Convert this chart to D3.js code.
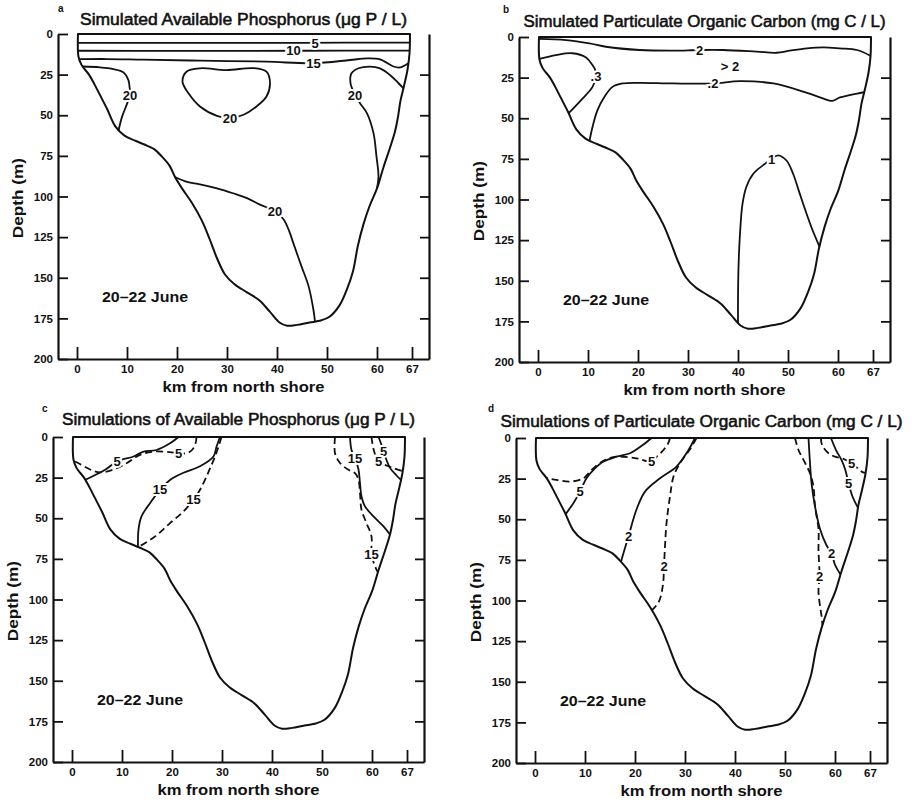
<!DOCTYPE html>
<html>
<head>
<meta charset="utf-8">
<script src="https://cdn.jsdelivr.net/npm/d3@7"></script>
<style>
  body { margin: 0; background: #fff; }
  text { font-family: "Liberation Sans", Arial, sans-serif; fill: #111; }
</style>
</head>
<body>
<svg id="fig" width="912" height="802"></svg>
<script>
// ---- axis ticks ----
const kmTicks = [0, 10, 20, 30, 40, 50, 60, 67];
const depthTicks = [0, 25, 50, 75, 100, 125, 150, 175, 200];
const dateLabel = "20–22 June";

// ---- lake cross-section: [km from north shore, depth m] ----
const shoreline = [
  [0.2, 0], [0.3, 14], [0.9, 19], [2.4, 25], [3.5, 31], [4.5, 37], [6, 46], [7.7, 57],
  [9.5, 62.5], [11.5, 65.5], [13.5, 68], [15.5, 71], [17, 75.5], [18.5, 81], [19.6, 88],
  [21, 95], [23, 104], [25, 115], [26.5, 126], [28, 138], [29.6, 148], [31.5, 154],
  [34, 159], [36.5, 164], [38.6, 171], [40.5, 177.5], [42, 179.5], [44, 179], [46.5, 177.5],
  [48.5, 176.5], [50.5, 174], [52.5, 167], [54, 157], [55.2, 146], [56.2, 130], [57.3, 117],
  [58.5, 106], [60, 95], [61.3, 82], [62.6, 70], [63.6, 60], [64.2, 51], [64.7, 41],
  [65.4, 32], [66.1, 22], [66.5, 12], [66.6, 0]
];

// ---- (a) simulated available phosphorus, ug P/L ----
const aP5 = [[0.22, 5.5], [20, 5.5], [45, 5.4], [66.6, 5.3]];
const aP10 = [[0.25, 10.3], [20, 10.4], [45, 10.3], [66.55, 10.2]];
const aP15 = [[0.45, 15.5], [6, 15.4], [13.2, 15.8], [24.6, 16.4], [37.9, 17], [47.3, 18],
  [54.6, 16], [58, 15], [60.6, 15.6], [63.3, 20], [64.6, 20.6], [66.25, 18]];
const aP20Left = [[1.1, 20], [4.6, 20.5], [7.3, 21.6], [9.3, 23.6], [10.3, 28.5], [10.5, 32.4],
  [10.6, 37.5], [10, 43], [9, 51], [8.3, 59.5]];
const aP20Centre = [[21.9, 23.2], [24.6, 21.1], [29.9, 22.2], [35.3, 21], [37.9, 23.2],
  [38.6, 30.3], [37.9, 38.5], [35.9, 44.6], [33.3, 49.7], [30.6, 51.8], [28, 50.4],
  [24.6, 44.6], [22.3, 36.5], [21.1, 29.3]];
const aP20Right = [[65.3, 33.4], [64.3, 30.3], [62.6, 25.2], [60.6, 21.1], [58.6, 20.1],
  [56.3, 21.1], [54.9, 24.2], [54.7, 30.3], [55.6, 37.5], [56.6, 42.6], [58, 48.8],
  [59.3, 61], [59.9, 75.5], [60.3, 87.7], [60, 95]];
const aP20Deep = [[19.6, 88], [22, 91], [24.6, 92.5], [28, 95], [31.2, 98], [34, 101],
  [36.6, 105], [39.6, 109], [41.3, 114], [42.4, 121], [43.3, 129], [44.9, 143],
  [46.3, 155], [47.3, 170], [47.6, 177]];

// ---- (b) simulated particulate organic carbon, mg C/L ----
const bC2Upper = [[0.22, 1.2], [5.6, 1.9], [10.3, 3.9], [13.6, 6], [20.3, 8], [27, 8.4],
  [32.3, 8], [37, 8], [43.7, 9], [47.7, 9.7], [50.4, 8.4], [53.8, 7], [57.1, 6.4],
  [60.4, 7], [63.8, 8], [66.45, 11.5]];
const bC3 = [[0.3, 13.5], [3.6, 11.1], [6.9, 10], [9.6, 12.6], [10.9, 17.3], [11.6, 21.4],
  [11.6, 24.5], [10.9, 30.7], [8.9, 37.9], [6.1, 47]];
const bC2Middle = [[10.3, 64], [10.9, 55.4], [11.9, 45], [13.3, 36.8], [14.9, 30.7],
  [16.9, 28.6], [20.3, 28.2], [27, 28.6], [35, 28.6], [40.4, 27.2], [47.1, 28.6],
  [53.8, 34.4], [57.1, 37.9], [58.8, 39.3], [60.4, 37.2], [63.8, 34.8], [65.2, 34]];
const bC1 = [[40, 176], [40, 162.3], [40.1, 141.8], [40.4, 121], [40.9, 102.7], [41.7, 92],
  [43.1, 84], [45.4, 78], [46.7, 75], [48, 72.8], [49.7, 76], [51, 84], [52.2, 95],
  [53.4, 106], [54.8, 118], [56.3, 129]];

// ---- (c) simulations of available phosphorus (solid and dashed runs) ----
const cP5SolidL = [[21.3, 0], [19.6, 3.9], [16.9, 8], [14.3, 9], [12.3, 12], [9, 15],
  [6.7, 20], [2.7, 26.3]];
const cP5DashL = [[24.9, 0], [24.7, 4], [24, 8], [22.9, 10], [21.3, 10], [19.5, 9.3],
  [16.3, 9], [13.6, 11], [11, 16], [8.3, 20], [5.6, 21.8], [3.6, 20], [1.5, 16.5], [0.4, 14.8]];
const cP15SolidL = [[29.6, 0], [28.9, 6], [28.3, 12], [25.6, 18], [22.3, 22], [19.6, 26.4],
  [17.6, 32.5], [15.6, 40.7], [13.9, 48.9], [13.3, 57], [13.2, 67.6]];
const cP15DashL = [[29.9, 0], [29.3, 6], [28.6, 12], [27.8, 18], [26.9, 24.3], [25.6, 32.5],
  [24.3, 38.6], [22.3, 45.8], [19.6, 53], [16.7, 61], [13.3, 67.7]];
const cP15DashR = [[52.6, 0], [52.6, 10], [53.6, 16], [55.3, 20.2], [56.6, 22.3], [57.3, 26.4],
  [57.6, 34.6], [57.9, 44.8], [58.9, 53], [59.9, 61.2], [59.9, 72.4], [60.8, 81], [61.2, 83.3]];
const cP15SolidR = [[55.6, 0], [55.9, 8], [56.6, 13], [57.3, 20], [57.6, 28.4], [57.9, 36.6],
  [58.6, 42.7], [60.3, 48.9], [62.3, 55], [63.6, 60]];
const cP5DashR = [[59.9, 0], [60.3, 7.4], [61.3, 15.2], [63, 17.7], [64.3, 19.2], [66.15, 21]];
const cP5SolidR = [[61.3, 0], [61.8, 4], [62.3, 9], [63.6, 19], [65, 24], [65.8, 26.3]];

// ---- (d) simulations of particulate organic carbon (solid and dashed runs) ----
const dC5SolidL = [[23.3, 0], [21.7, 4], [19, 9.4], [16.3, 11.5], [13.7, 14.5], [11.7, 19.6],
  [10.3, 24.8], [9, 33], [7.7, 40], [6.1, 47]];
const dC5DashL = [[27, 0], [26.6, 3.5], [25.7, 7.4], [24.5, 11], [23.3, 14.5], [20.3, 12.5],
  [16.3, 11.5], [13.7, 14], [11.3, 19.6], [9.7, 24.8], [7, 26.8], [4.3, 25.8], [2.3, 24.6]];
const dC2SolidL = [[32, 0], [30.7, 7.4], [28.3, 17.6], [25, 24.8], [22, 33], [20.3, 44],
  [18.7, 60.5], [17.7, 70.8], [17.2, 76.2]];
const dC2DashL = [[32.3, 0], [31, 7], [29, 15.5], [27.7, 23.7], [27, 36], [26.3, 52.4],
  [26, 66.7], [25.8, 79], [25.6, 90], [24.8, 100.6], [23.4, 106]];
const dC2DashR = [[52, 0], [52.7, 7.4], [53.7, 13.5], [55, 21.7], [55.7, 30], [56, 42],
  [56.7, 56], [56.7, 68.7], [56.9, 85], [56.7, 95], [57.3, 109.5], [57.5, 115]];
const dC2SolidR = [[54.7, 0], [55, 15.5], [55.3, 27.6], [56, 42], [57, 56], [58.3, 66],
  [59.3, 71], [60, 78], [61.1, 84]];
const dC5DashR = [[57.2, 0], [57.4, 4.3], [58.7, 9.4], [60, 11.5], [61.8, 13], [63.3, 15.5],
  [64.5, 18.5], [65.5, 21], [66.1, 21.5]];
const dC5SolidR = [[59.2, 0], [60.2, 7.4], [61.3, 13.5], [62.1, 20], [62.7, 27.8],
  [63.5, 36], [64.6, 43]];

// ---- figure layout ----
const W = 371, H = 325;
const kmDomain = [-3.8, 70.4];

const panels = [
  {
    left: 58, top: 34, letter: "a", letterDx: 0, letterDy: -22,
    title: "Simulated Available Phosphorus (μg P / L)", titleLen: 327, titleDy: -9,
    lines: [
      { pts: aP5 }, { pts: aP10 }, { pts: aP15 }, { pts: aP20Left },
      { pts: aP20Centre, closed: true }, { pts: aP20Right }, { pts: aP20Deep }
    ],
    labels: [
      { t: "5", at: [47.6, 5.5] }, { t: "10", at: [43.3, 10.3] }, { t: "15", at: [47.3, 18] },
      { t: "20", at: [10.6, 37.5] }, { t: "20", at: [30.6, 51.8] },
      { t: "20", at: [55.6, 37.5] }, { t: "20", at: [39.6, 109] }
    ]
  },
  {
    left: 519, top: 37, letter: "b", letterDx: -16, letterDy: -24,
    title: "Simulated Particulate Organic Carbon (mg C / L)", titleLen: 362, titleDy: -10,
    lines: [{ pts: bC2Upper }, { pts: bC3 }, { pts: bC2Middle }, { pts: bC1 }],
    labels: [
      { t: "2", at: [32.3, 8] }, { t: "> 2", at: [38.4, 18.3], bare: true },
      { t: ".3", at: [11.6, 24.5] }, { t: ".2", at: [35, 28.6] }, { t: "1", at: [46.7, 75] }
    ]
  },
  {
    left: 53, top: 437, letter: "c", letterDx: -11, letterDy: -25,
    title: "Simulations of Available Phosphorus  (μg P / L)", titleLen: 353, titleDy: -12,
    lines: [
      { pts: cP5SolidL }, { pts: cP5DashL, dash: true }, { pts: cP15SolidL },
      { pts: cP15DashL, dash: true }, { pts: cP15DashR, dash: true }, { pts: cP15SolidR },
      { pts: cP5DashR, dash: true }, { pts: cP5SolidR }
    ],
    labels: [
      { t: "5", at: [9, 15] }, { t: "5", at: [21.3, 10] }, { t: "15", at: [17.6, 32.5] },
      { t: "15", at: [24.3, 38.6] }, { t: "15", at: [56.6, 13] }, { t: "15", at: [59.9, 72.4] },
      { t: "5", at: [62.3, 9] }, { t: "5", at: [61.3, 15.2] }
    ]
  },
  {
    left: 516, top: 438, letter: "d", letterDx: -28, letterDy: -26,
    title: "Simulations of Particulate Organic Carbon (mg C / L)", titleLen: 402, titleDy: -11,
    lines: [
      { pts: dC5SolidL }, { pts: dC5DashL, dash: true }, { pts: dC2SolidL },
      { pts: dC2DashL, dash: true }, { pts: dC2DashR, dash: true }, { pts: dC2SolidR },
      { pts: dC5DashR, dash: true }, { pts: dC5SolidR }
    ],
    labels: [
      { t: "5", at: [9, 33] }, { t: "5", at: [23.3, 14.5] }, { t: "2", at: [18.7, 60.5] },
      { t: "2", at: [25.8, 79] }, { t: "2", at: [56.9, 85] }, { t: "2", at: [59.3, 71] },
      { t: "5", at: [63.3, 15.5] }, { t: "5", at: [62.7, 27.8] }
    ]
  }
];

const svg = d3.select("#fig");
svg.append("rect").attr("width", 912).attr("height", 802).attr("fill", "#fff");

function drawPanel(p) {
  const g = svg.append("g").attr("transform", `translate(${p.left},${p.top})`);
  const x = d3.scaleLinear().domain(kmDomain).range([0, W]);
  const y = d3.scaleLinear().domain([0, 200]).range([0, H]);
  const line = d3.line().x(d => x(d[0])).y(d => y(d[1])).curve(d3.curveCatmullRom.alpha(0.5));
  const loop = d3.line().x(d => x(d[0])).y(d => y(d[1])).curve(d3.curveCatmullRomClosed.alpha(0.5));

  // lake outline: bottom profile closed by the water surface
  g.append("path").attr("d", line(shoreline) + "Z")
    .attr("fill", "none").attr("stroke", "#111").attr("stroke-width", 2)
    .attr("stroke-linejoin", "round");

  // isopleths
  p.lines.forEach(l => {
    g.append("path").attr("d", (l.closed ? loop : line)(l.pts))
      .attr("fill", "none").attr("stroke", "#111").attr("stroke-width", 1.8)
      .attr("stroke-dasharray", l.dash ? "7,4" : null)
      .attr("stroke-linecap", "butt");
  });

  // isopleth values, knocked out of the lines
  p.labels.forEach(l => {
    g.append("text").attr("x", x(l.at[0])).attr("y", y(l.at[1]))
      .attr("text-anchor", "middle").attr("dy", "0.36em")
      .attr("font-size", 13).attr("font-weight", "bold")
      .attr("stroke", l.bare ? "none" : "#fff").attr("stroke-width", 4)
      .attr("paint-order", "stroke")
      .text(l.t);
  });

  // date stamp
  g.append("text").attr("x", x(5)).attr("y", y(165))
    .attr("font-size", 15).attr("font-weight", "bold")
    .attr("textLength", 86).attr("lengthAdjust", "spacingAndGlyphs")
    .text(dateLabel);

  // axes
  const axStyle = sel => {
    sel.select(".domain").attr("stroke", "#111").attr("stroke-width", 2.2);
    sel.selectAll(".tick line").attr("stroke", "#111").attr("stroke-width", 1.8);
    sel.selectAll(".tick text").attr("font-size", 11.5).attr("font-weight", "bold")
      .attr("font-family", "Liberation Sans, Arial, sans-serif").attr("fill", "#111");
  };
  g.append("g")
    .call(d3.axisLeft(y).tickValues(depthTicks).tickSize(-10).tickSizeOuter(0).tickPadding(5))
    .call(axStyle);
  g.append("g").attr("transform", `translate(${W},0)`)
    .call(d3.axisRight(y).tickValues(depthTicks.slice(1, -1)).tickSize(-9).tickSizeOuter(0)
      .tickFormat(""))
    .call(axStyle);
  g.append("g").attr("transform", `translate(0,${H})`)
    .call(d3.axisBottom(x).tickValues(kmTicks).tickSize(-12).tickSizeOuter(0).tickPadding(6))
    .call(axStyle);

  // axis titles
  g.append("text").attr("x", x(33.3)).attr("y", H + 33)
    .attr("text-anchor", "middle").attr("font-size", 15).attr("font-weight", "bold")
    .attr("textLength", 162).attr("lengthAdjust", "spacingAndGlyphs")
    .text("km from north shore");
  g.append("text")
    .attr("transform", `translate(-35,${y(101)}) rotate(-90)`)
    .attr("text-anchor", "middle").attr("font-size", 15).attr("font-weight", "bold")
    .attr("textLength", 80).attr("lengthAdjust", "spacingAndGlyphs")
    .text("Depth (m)");

  // panel title and letter
  g.append("text").attr("x", W / 2).attr("y", p.titleDy)
    .attr("text-anchor", "middle").attr("font-size", 16)
    .attr("stroke", "#111").attr("stroke-width", 0.55)
    .attr("textLength", p.titleLen).attr("lengthAdjust", "spacingAndGlyphs")
    .text(p.title);
  g.append("text").attr("x", p.letterDx).attr("y", p.letterDy)
    .attr("font-size", 10).attr("font-weight", "bold")
    .text(p.letter);
}

panels.forEach(drawPanel);
</script>
</body>
</html>
